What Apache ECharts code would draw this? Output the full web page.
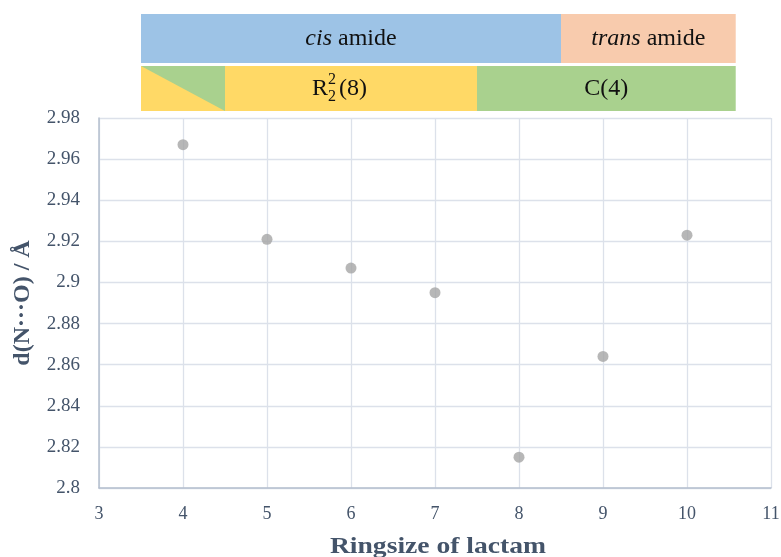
<!DOCTYPE html>
<html><head><meta charset="utf-8">
<script src="https://cdn.jsdelivr.net/npm/echarts@6/dist/echarts.min.js"></script>
<style>html,body{margin:0;padding:0;background:#fff}#c{width:781px;height:557px}</style>
</head><body><div id="c"></div>
<script>
var ringSizes = [4, 5, 6, 7, 8, 9, 10];
var distances = [2.967, 2.921, 2.907, 2.895, 2.815, 2.864, 2.923];
var xTicks = [3, 4, 5, 6, 7, 8, 9, 10, 11];
var yTicks = [2.8, 2.82, 2.84, 2.86, 2.88, 2.9, 2.92, 2.94, 2.96, 2.98];
var xTitle = 'Ringsize of lactam';
var yTitle = 'd(N\u00B7\u00B7\u00B7O) / \u00C5';
// header bands (x ranges in ring-size units)
var amideBands = [
  {name: 'cis', from: 3.5, to: 8.5},
  {name: 'trans', from: 8.5, to: 10.58}
];
var motifBands = [
  {name: 'mixed', from: 3.5, to: 4.5},
  {name: 'R22(8)', from: 4.5, to: 7.5},
  {name: 'C(4)', from: 7.5, to: 10.58}
];

var txt = '#44546A';
var font = '"Liberation Serif","Times New Roman",serif';
var chart = echarts.init(document.getElementById('c'));
chart.setOption({
  animation: false,
  grid: {left: 99, right: 10, top: 118, bottom: 69, containLabel: false, outerBoundsMode: 'none'},
  xAxis: {
    type: 'value', min: xTicks[0], max: xTicks[xTicks.length-1], interval: 1,
    axisLine: {show: true, lineStyle: {color: '#B4BFCE', width: 1.5}},
    axisTick: {show: false},
    axisLabel: {fontFamily: font, fontSize: 18, color: txt, margin: 17},
    splitLine: {show: true, lineStyle: {color: '#DCE1EA', width: 1.3}}
  },
  yAxis: {
    type: 'value', min: yTicks[0], max: yTicks[yTicks.length-1], interval: 0.02,
    name: yTitle, nameLocation: 'middle', nameGap: 64,
    nameTextStyle: {fontFamily: font, fontSize: 24, fontWeight: 'bold', color: txt},
    axisLine: {show: true, lineStyle: {color: '#B4BFCE', width: 1.5}},
    axisTick: {show: false},
    axisLabel: {fontFamily: font, fontSize: 19, color: txt, margin: 19,
      formatter: function (v) { return String(parseFloat(v.toFixed(2))); }},
    splitLine: {show: true, lineStyle: {color: '#DCE1EA', width: 1.3}}
  },
  series: [{
    type: 'scatter', symbol: 'circle', symbolSize: 11,
    itemStyle: {color: '#A5A5A5'},
    data: ringSizes.map(function (x, i) { return [x, distances[i]]; })
  }]
});

function px(v) { return chart.convertToPixel({xAxisIndex: 0}, v); }
var g = [];
// x-axis title (slightly widened like the reference)
g.push({type: 'text', x: 438, y: 547, scaleX: 1.15, style: {
  text: xTitle, fontFamily: font, fontSize: 24, fontWeight: 'bold', fill: txt, align: 'center', verticalAlign: 'middle'}});
var amideColors = {cis: '#9DC3E6', trans: '#F8CBAD'};
amideBands.forEach(function (b) {
  var x0 = px(b.from), x1 = px(b.to);
  g.push({type: 'rect', shape: {x: x0, y: 14, width: x1 - x0, height: 49}, style: {fill: amideColors[b.name]}});
  g.push({type: 'text', x: (x0 + x1) / 2, y: 39, style: {
    text: '{i|' + b.name + '}{n| amide}', rich: {
      i: {fontFamily: font, fontSize: 24, fontStyle: 'italic', fill: '#111'},
      n: {fontFamily: font, fontSize: 24, fill: '#111'}
    }, align: 'center', verticalAlign: 'middle'}});
});
motifBands.forEach(function (b) {
  var x0 = px(b.from), x1 = px(b.to);
  if (b.name === 'mixed') {
    g.push({type: 'rect', shape: {x: x0, y: 66, width: x1 - x0, height: 45}, style: {fill: '#FFD966'}});
    g.push({type: 'polygon', shape: {points: [[x0, 66], [x1, 66], [x1, 111]]}, style: {fill: '#A9D18E'}});
  } else if (b.name === 'C(4)') {
    g.push({type: 'rect', shape: {x: x0, y: 66, width: x1 - x0, height: 45}, style: {fill: '#A9D18E'}});
    g.push({type: 'text', x: (x0 + x1) / 2, y: 89, style: {text: 'C(4)', fontFamily: font, fontSize: 24, fill: '#111', align: 'center', verticalAlign: 'middle'}});
  } else {
    g.push({type: 'rect', shape: {x: x0, y: 66, width: x1 - x0, height: 45}, style: {fill: '#FFD966'}});
    var cx = (x0 + x1) / 2;
    g.push({type: 'text', x: cx - 39, y: 89, style: {text: 'R', fontFamily: font, fontSize: 24, fill: '#111', align: 'left', verticalAlign: 'middle'}});
    g.push({type: 'text', x: cx - 23, y: 80, style: {text: '2', fontFamily: font, fontSize: 16, fill: '#111', align: 'left', verticalAlign: 'middle'}});
    g.push({type: 'text', x: cx - 23, y: 97, style: {text: '2', fontFamily: font, fontSize: 16, fill: '#111', align: 'left', verticalAlign: 'middle'}});
    g.push({type: 'text', x: cx - 12, y: 89, style: {text: '(8)', fontFamily: font, fontSize: 24, fill: '#111', align: 'left', verticalAlign: 'middle'}});
  }
});
chart.setOption({graphic: g});
</script></body></html>
